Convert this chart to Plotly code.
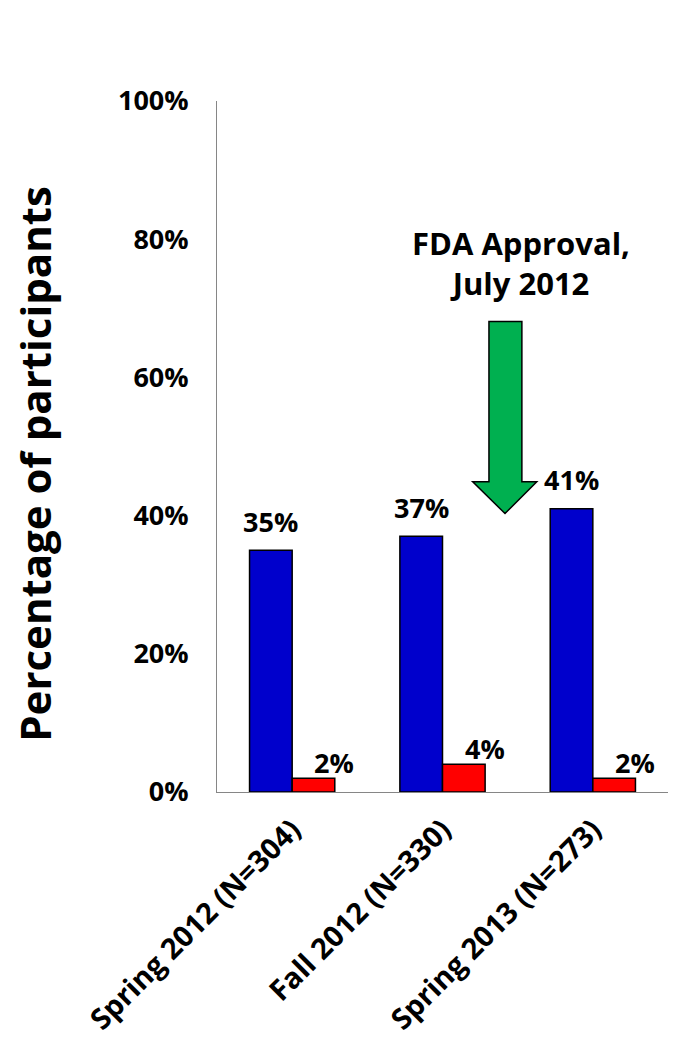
import plotly.graph_objects as go

# Survey waves and share of participants (percent)
categories = ["Spring 2012 (N=304)", "Fall 2012 (N=330)", "Spring 2013 (N=273)"]
blue_values = [35, 37, 41]
red_values = [2, 4, 2]
y_ticks = [0, 20, 40, 60, 80, 100]

FONT = "Open Sans"
BOLD = dict(family=FONT, size=27, color="black", weight="bold")

fig = go.Figure()
fig.add_trace(go.Bar(
    x=categories, y=blue_values, marker=dict(color="#0000CC", line=dict(color="black", width=1.5)),
    showlegend=False,
))
fig.add_trace(go.Bar(
    x=categories, y=red_values, marker=dict(color="#FF0000", line=dict(color="black", width=1.5)),
    showlegend=False,
))

# Value labels above the bars
annotations = []
for cat, v in zip(categories, blue_values):
    annotations.append(dict(x=cat, y=v, xref="x", yref="y", text=f"{v}%", showarrow=False,
                            xshift=-21.5, yshift=29, yanchor="middle", font=BOLD))
for cat, v in zip(categories, red_values):
    annotations.append(dict(x=cat, y=v, xref="x", yref="y", text=f"{v}%", showarrow=False,
                            xshift=42, yshift=16, yanchor="middle", font=BOLD))

# Event callout text
annotations.append(dict(x=0.674, y=0.766, xref="paper", yref="paper",
                        text="FDA Approval,<br>July 2012", showarrow=False,
                        font=dict(family=FONT, size=31, color="black", weight="bold"),
                        align="center", xanchor="center", yanchor="middle"))

# Y-axis title
annotations.append(dict(x=0, y=0.475, xref="paper", yref="paper", xshift=-182,
                        text="Percentage of participants", showarrow=False, textangle=-90,
                        font=dict(family=FONT, size=42, color="black", weight="bold"),
                        xanchor="center", yanchor="middle"))

# Block arrow pointing down to the post-approval wave
ax_l, ax_r, wing_l, wing_r, tip_x = 0.603, 0.676, 0.567, 0.709, 0.6386
y_top, y_head, y_tip = 68.1, 44.9, 40.3
arrow_path = (f"M {ax_l} {y_top} L {ax_r} {y_top} L {ax_r} {y_head} L {wing_r} {y_head} "
              f"L {tip_x} {y_tip} L {wing_l} {y_head} L {ax_l} {y_head} Z")
fig.add_shape(type="path", path=arrow_path, xref="paper", yref="y",
              fillcolor="#00B050", line=dict(color="black", width=1.5), layer="above")

fig.update_layout(
    width=674, height=1044,
    margin=dict(l=217, r=6, t=101, b=252, autoexpand=False),
    paper_bgcolor="white", plot_bgcolor="white",
    barmode="group", bargap=0.433, bargroupgap=0,
    annotations=annotations,
    font=dict(family=FONT),
)
fig.update_yaxes(range=[0, 100], tickvals=y_ticks, ticktext=[f"{t}%" for t in y_ticks],
                 showgrid=False, zeroline=False, showline=True, linecolor="#868686", linewidth=1,
                 ticks="", ticklabelstandoff=22, tickfont=BOLD, automargin=False)
fig.update_xaxes(showgrid=False, showline=True, linecolor="#868686", linewidth=1,
                 ticks="", tickangle=-45, ticklabelstandoff=8, automargin=False,
                 tickfont=dict(family=FONT, size=29, color="black", weight="bold"))

fig.write_html("out.html")
